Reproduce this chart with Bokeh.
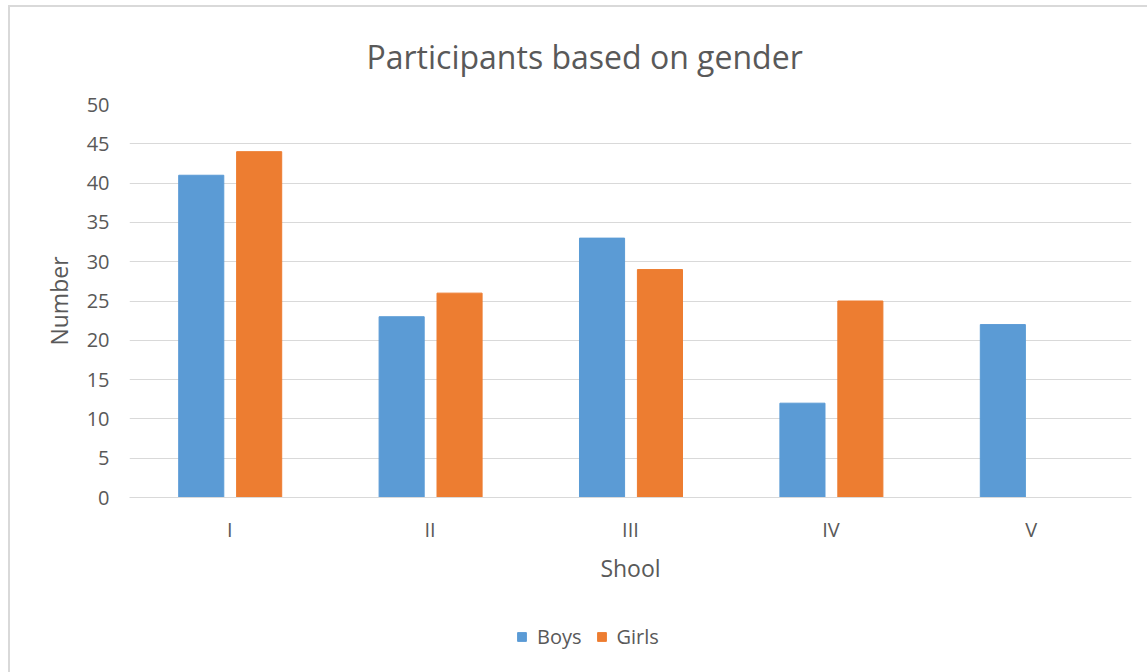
from bokeh.plotting import figure
from bokeh.layouts import column
from bokeh.models import (FactorRange, Range1d, ColumnDataSource, Legend, LegendItem,
                          FixedTicker)
from bokeh.transform import dodge
from bokeh.embed import file_html
from bokeh.resources import INLINE

title_text = "Participants based on gender"
schools = ["I", "II", "III", "IV", "V"]
boys = [41, 23, 33, 12, 22]
girls = [44, 26, 29, 25, 0]
y_ticks = [0, 5, 10, 15, 20, 25, 30, 35, 40, 45, 50]

FONT = "Open Sans"
TXT = "#595959"
BLUE = "#5B9BD5"
ORANGE = "#ED7D31"

src = ColumnDataSource(dict(school=schools, boys=boys, girls=girls))

p = figure(x_range=FactorRange(*schools, range_padding=0), y_range=Range1d(0, 50),
           width=1137, height=593, output_backend="svg", toolbar_location=None,
           min_border_left=119, min_border_right=16, min_border_top=97, min_border_bottom=103,
           title=title_text)

rb = p.vbar(x=dodge("school", -0.142, range=p.x_range), top="boys", width=0.225, source=src,
            fill_color=BLUE, line_color=BLUE)
rg = p.vbar(x=dodge("school", 0.147, range=p.x_range), top="girls", width=0.225, source=src,
            fill_color=ORANGE, line_color=ORANGE)

p.outline_line_color = None
p.background_fill_color = "white"
p.border_fill_color = "white"

p.title.text_font = FONT
p.title.text_font_size = "32px"
p.title.text_font_style = "normal"
p.title.text_color = TXT
p.title.align = "left"
p.title.offset = 237
p.title.vertical_align = "top"
p.title.standoff = 50

p.xgrid.grid_line_color = None
p.ygrid.grid_line_color = "#d9d9d9"
p.ygrid.grid_line_width = 1
p.yaxis.ticker = FixedTicker(ticks=y_ticks)

for ax in (p.xaxis[0], p.yaxis[0]):
    ax.major_tick_line_color = None
    ax.minor_tick_line_color = None
    ax.major_label_text_font = FONT
    ax.major_label_text_font_size = "20px"
    ax.major_label_text_color = TXT
    ax.axis_label_text_font = FONT
    ax.axis_label_text_font_size = "23px"
    ax.axis_label_text_font_style = "normal"
    ax.axis_label_text_color = TXT

p.yaxis.axis_line_color = None
p.xaxis.axis_line_color = "#d9d9d9"
p.yaxis.axis_label = "Number"
p.xaxis.axis_label = "Shool"
p.yaxis.major_label_standoff = 14
p.yaxis.axis_label_standoff = 9
p.xaxis.major_label_standoff = 12
p.xaxis.axis_label_standoff = 6

# legend strip below the chart
p2 = figure(x_range=FactorRange(*schools), y_range=Range1d(1000, 1001),
            width=1137, height=72, output_backend="svg", toolbar_location=None,
            min_border_left=0, min_border_right=0, min_border_top=0, min_border_bottom=0)
p2.axis.visible = False
p2.grid.grid_line_color = None
p2.outline_line_color = None
p2.background_fill_color = "white"
p2.border_fill_color = "white"
lb = p2.vbar(x="school", top="boys", width=0.2, source=src, fill_color=BLUE, line_color=BLUE)
lg = p2.vbar(x="school", top="girls", width=0.2, source=src, fill_color=ORANGE, line_color=ORANGE)

legend = Legend(items=[LegendItem(label="Boys", renderers=[lb]),
                       LegendItem(label="Girls", renderers=[lg])],
                orientation="horizontal", location=(387, 22))
legend.label_text_font = FONT
legend.label_text_font_size = "20px"
legend.label_text_color = TXT
legend.glyph_width = 11
legend.glyph_height = 11
legend.spacing = 14
legend.label_standoff = 10
legend.padding = 5
legend.margin = 0
legend.border_line_color = None
legend.background_fill_alpha = 0
p2.add_layout(legend, "center")

layout = column(p, p2, spacing=0,
                styles={"margin-left": "8px", "margin-top": "5px",
                        "border-left": "2px solid #d9d9d9", "border-top": "2px solid #d9d9d9"})
open("out.html", "w").write(file_html(layout, INLINE))
